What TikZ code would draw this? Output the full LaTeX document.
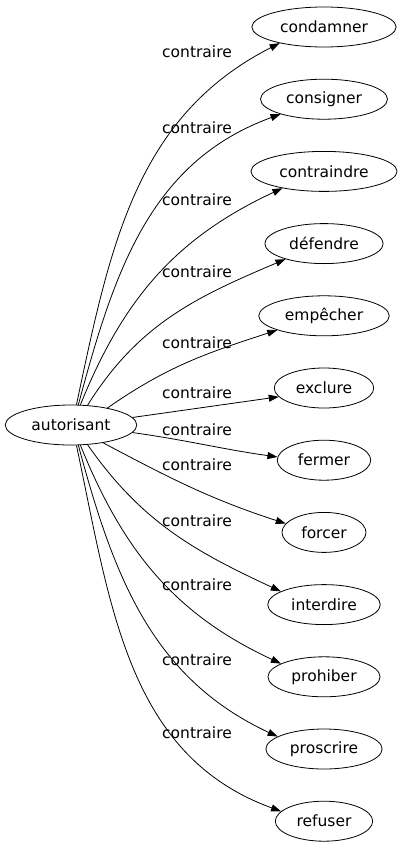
\documentclass[tikz,border=0pt]{standalone}
\usepackage{fontspec}
\setmainfont{DejaVu Sans}
\usetikzlibrary{arrows.meta,shapes.geometric,positioning}

\begin{document}
\begin{tikzpicture}[x=1pt,y=1pt,node distance=72.2pt,
    >={Triangle[length=10pt,width=7pt]},
    word/.style={ellipse,draw,line width=0.8pt,inner xsep=7pt,inner ysep=2pt,
      minimum height=40pt,font=\fontsize{15.5}{18}\selectfont},
    rel/.style={inner sep=0pt,font=\fontsize{15.5}{18}\selectfont}]
    \useasboundingbox (0,0) rectangle (403,-851);
    \node[word] (aut) at (71,-425) {autorisant};
    \node[word] (condamner) at (324,-27) {condamner};
    \node[word] (consigner) [below of=condamner] {consigner};
    \node[word] (contraindre) [below of=consigner] {contraindre};
    \node[word] (defendre) [below of=contraindre] {défendre};
    \node[word] (empecher) [below of=defendre] {empêcher};
    \node[word] (exclure) [below of=empecher] {exclure};
    \node[word] (fermer) [below of=exclure] {fermer};
    \node[word] (forcer) [below of=fermer] {forcer};
    \node[word] (interdire) [below of=forcer] {interdire};
    \node[word] (prohiber) [below of=interdire] {prohiber};
    \node[word] (proscrire) [below of=prohiber] {proscrire};
    \node[word] (refuser) [below of=proscrire] {refuser};
    % labels
    \node[rel] (l1) at (197,-52) {contraire};
    \node[rel] (l2) at (197,-128) {contraire};
    \node[rel] (l3) at (197,-200) {contraire};
    \node[rel] (l4) at (197,-272) {contraire};
    \node[rel] (l5) at (197,-343) {contraire};
    \node[rel] (l6) at (197,-393) {contraire};
    \node[rel] (l7) at (197,-430) {contraire};
    \node[rel] (l8) at (197,-465) {contraire};
    \node[rel] (l9) at (197,-521) {contraire};
    \node[rel] (l10) at (197,-585) {contraire};
    \node[rel] (l11) at (197,-660) {contraire};
    \node[rel] (l12) at (197,-733) {contraire};
    \path[->,line width=0.8pt]
    (aut.75) edge[out=78,in=207] (condamner.200)
    (aut.70) edge[out=75,in=200] (consigner.199)
    (aut.65) edge[out=68,in=205] (contraindre.202)
    (aut.50) edge[out=58,in=203] (defendre.202)
    (aut.25) edge[out=35,in=198] (empecher.197)
    (aut.7) edge[out=8,in=188] (exclure.191)
    (aut.-7) edge[out=-8,in=172] (fermer.176)
    (aut.-29) edge[out=-28,in=162] (forcer.167)
    (aut.-50) edge[out=-55,in=155] (interdire.163)
    (aut.-65) edge[out=-68,in=155] (prohiber.163)
    (aut.-70) edge[out=-75,in=155] (proscrire.165)
    (aut.-75) edge[out=-78,in=160] (refuser.167)
    ;
\end{tikzpicture}
\end{document}
